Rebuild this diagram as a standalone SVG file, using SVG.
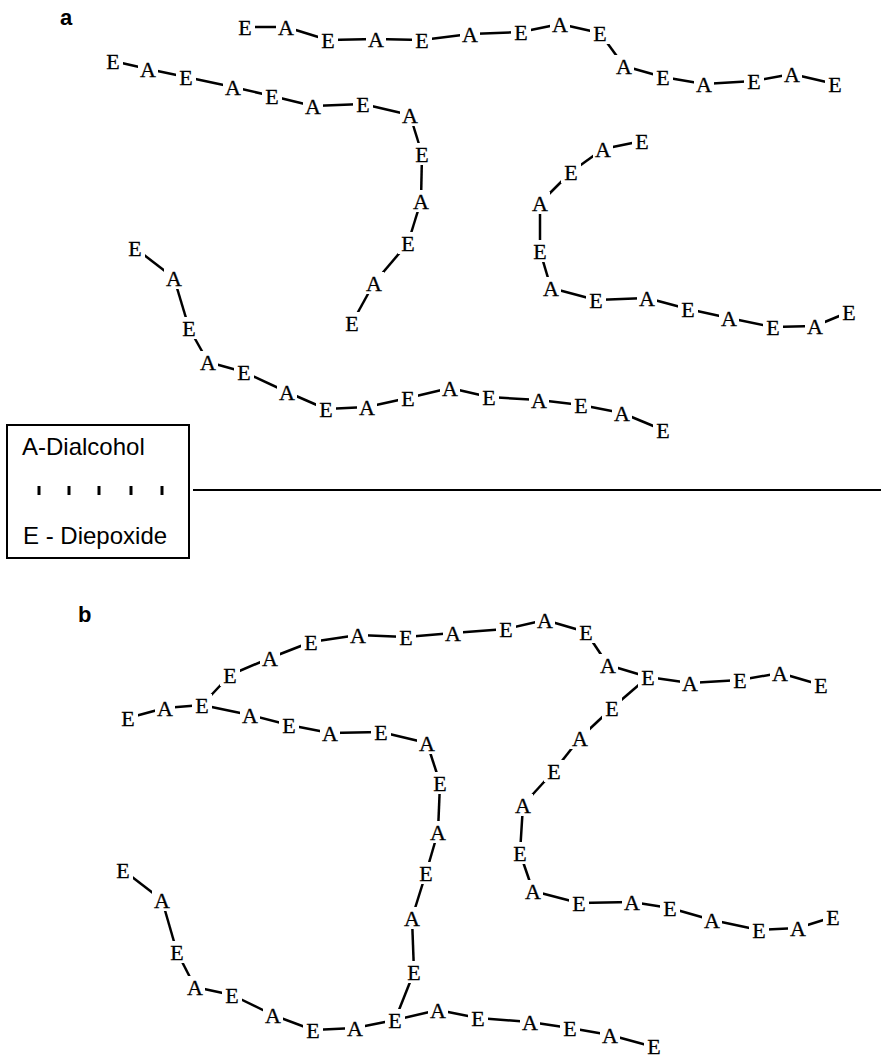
<svg xmlns="http://www.w3.org/2000/svg" width="881" height="1058" viewBox="0 0 881 1058">
<style>
.c line{stroke:#000;stroke-width:2.5;stroke-linecap:butt}
.n rect{fill:#fff}
.n text{font-family:"Liberation Serif","Times New Roman",serif;font-size:22px;text-anchor:middle;fill:#000;stroke:#000;stroke-width:0.3}
.lbl{font-family:"Liberation Sans",Arial,sans-serif;font-weight:bold;font-size:22px;fill:#000}
.leg text{font-family:"Liberation Sans",Arial,sans-serif;font-size:24px;fill:#000}
</style>
<rect width="881" height="1058" fill="#fff"/>
<text class="lbl" x="60" y="25">a</text>
<text class="lbl" x="78" y="622">b</text>
<g id="legend" class="leg">
<rect x="7" y="425" width="182" height="133" fill="none" stroke="#000" stroke-width="2"/>
<text x="22" y="455">A-Dialcohol</text>
<text x="23" y="544">E - Diepoxide</text>
<g stroke="#000" stroke-width="3">
<line x1="39" y1="486" x2="39" y2="495"/><line x1="69" y1="486" x2="69" y2="495"/><line x1="99" y1="486" x2="99" y2="495"/><line x1="131" y1="486" x2="131" y2="495"/><line x1="162" y1="486" x2="162" y2="495"/>
</g>
</g>
<line id="divider" x1="193" y1="490" x2="881" y2="490" stroke="#000" stroke-width="2"/>
<g id="connectors" class="c">
<line x1="245" y1="27" x2="286" y2="27"/><line x1="286" y1="27" x2="328" y2="40"/><line x1="328" y1="40" x2="376" y2="39"/><line x1="376" y1="39" x2="422" y2="40"/><line x1="422" y1="40" x2="470" y2="34"/><line x1="470" y1="34" x2="521" y2="32"/><line x1="521" y1="32" x2="560" y2="24"/><line x1="560" y1="24" x2="600" y2="33"/><line x1="600" y1="33" x2="624" y2="66"/><line x1="624" y1="66" x2="663" y2="77"/><line x1="663" y1="77" x2="704" y2="84"/><line x1="704" y1="84" x2="754" y2="81"/><line x1="754" y1="81" x2="792" y2="74"/><line x1="792" y1="74" x2="835" y2="84"/>
<line x1="113" y1="61" x2="148" y2="69"/><line x1="148" y1="69" x2="186" y2="77"/><line x1="186" y1="77" x2="233" y2="87"/><line x1="233" y1="87" x2="272" y2="96"/><line x1="272" y1="96" x2="313" y2="106"/><line x1="313" y1="106" x2="363" y2="104"/><line x1="363" y1="104" x2="410" y2="115"/><line x1="410" y1="115" x2="422" y2="154"/><line x1="422" y1="154" x2="421" y2="201"/><line x1="421" y1="201" x2="408" y2="243"/><line x1="408" y1="243" x2="374" y2="283"/><line x1="374" y1="283" x2="352" y2="323"/>
<line x1="135" y1="248" x2="174" y2="278"/><line x1="174" y1="278" x2="189" y2="328"/><line x1="189" y1="328" x2="208" y2="362"/><line x1="208" y1="362" x2="244" y2="372"/><line x1="244" y1="372" x2="287" y2="392"/><line x1="287" y1="392" x2="326" y2="409"/><line x1="326" y1="409" x2="367" y2="407"/><line x1="367" y1="407" x2="408" y2="398"/><line x1="408" y1="398" x2="450" y2="388"/><line x1="450" y1="388" x2="489" y2="397"/><line x1="489" y1="397" x2="539" y2="400"/><line x1="539" y1="400" x2="581" y2="405"/><line x1="581" y1="405" x2="622" y2="413"/><line x1="622" y1="413" x2="663" y2="430"/>
<line x1="642" y1="141" x2="603" y2="149"/><line x1="603" y1="149" x2="571" y2="172"/><line x1="571" y1="172" x2="540" y2="203"/><line x1="540" y1="203" x2="540" y2="251"/><line x1="540" y1="251" x2="551" y2="288"/><line x1="551" y1="288" x2="596" y2="300"/><line x1="596" y1="300" x2="647" y2="298"/><line x1="647" y1="298" x2="688" y2="309"/><line x1="688" y1="309" x2="729" y2="318"/><line x1="729" y1="318" x2="773" y2="327"/><line x1="773" y1="327" x2="815" y2="326"/><line x1="815" y1="326" x2="849" y2="312"/>
<line x1="128" y1="718" x2="165" y2="708"/><line x1="165" y1="708" x2="202" y2="705"/><line x1="202" y1="705" x2="230" y2="675"/><line x1="230" y1="675" x2="270" y2="658"/><line x1="270" y1="658" x2="311" y2="642"/><line x1="311" y1="642" x2="358" y2="635"/><line x1="358" y1="635" x2="406" y2="637"/><line x1="406" y1="637" x2="453" y2="633"/><line x1="453" y1="633" x2="506" y2="629"/><line x1="506" y1="629" x2="545" y2="620"/><line x1="545" y1="620" x2="586" y2="632"/><line x1="586" y1="632" x2="608" y2="665"/><line x1="608" y1="665" x2="648" y2="677"/><line x1="648" y1="677" x2="690" y2="683"/><line x1="690" y1="683" x2="740" y2="680"/><line x1="740" y1="680" x2="780" y2="673"/><line x1="780" y1="673" x2="821" y2="685"/>
<line x1="648" y1="677" x2="612" y2="708"/><line x1="612" y1="708" x2="580" y2="738"/><line x1="580" y1="738" x2="554" y2="771"/><line x1="554" y1="771" x2="523" y2="805"/><line x1="523" y1="805" x2="520" y2="853"/><line x1="520" y1="853" x2="533" y2="891"/><line x1="533" y1="891" x2="579" y2="903"/><line x1="579" y1="903" x2="632" y2="902"/><line x1="632" y1="902" x2="670" y2="908"/><line x1="670" y1="908" x2="712" y2="920"/><line x1="712" y1="920" x2="759" y2="930"/><line x1="759" y1="930" x2="798" y2="928"/><line x1="798" y1="928" x2="833" y2="917"/>
<line x1="202" y1="705" x2="250" y2="715"/><line x1="250" y1="715" x2="289" y2="725"/><line x1="289" y1="725" x2="330" y2="733"/><line x1="330" y1="733" x2="381" y2="732"/><line x1="381" y1="732" x2="427" y2="743"/><line x1="427" y1="743" x2="440" y2="783"/><line x1="440" y1="783" x2="438" y2="832"/><line x1="438" y1="832" x2="426" y2="873"/><line x1="426" y1="873" x2="412" y2="918"/><line x1="412" y1="918" x2="414" y2="972"/><line x1="414" y1="972" x2="395" y2="1020"/>
<line x1="395" y1="1020" x2="355" y2="1028"/><line x1="355" y1="1028" x2="313" y2="1030"/><line x1="313" y1="1030" x2="273" y2="1015"/><line x1="273" y1="1015" x2="232" y2="995"/><line x1="232" y1="995" x2="195" y2="987"/><line x1="195" y1="987" x2="177" y2="952"/><line x1="177" y1="952" x2="162" y2="900"/><line x1="162" y1="900" x2="123" y2="870"/>
<line x1="395" y1="1020" x2="438" y2="1010"/><line x1="438" y1="1010" x2="478" y2="1018"/><line x1="478" y1="1018" x2="530" y2="1022"/><line x1="530" y1="1022" x2="570" y2="1028"/><line x1="570" y1="1028" x2="610" y2="1035"/><line x1="610" y1="1035" x2="654" y2="1047"/>
</g>
<g id="nodes-a">
<g id="a1-1" class="n" transform="translate(245,27)"><rect x="-10" y="-11" width="20" height="22"/><text y="7.5">E</text></g>
<g id="a1-2" class="n" transform="translate(286,27)"><rect x="-10" y="-11" width="20" height="22"/><text y="7.5">A</text></g>
<g id="a1-3" class="n" transform="translate(328,40)"><rect x="-10" y="-11" width="20" height="22"/><text y="7.5">E</text></g>
<g id="a1-4" class="n" transform="translate(376,39)"><rect x="-10" y="-11" width="20" height="22"/><text y="7.5">A</text></g>
<g id="a1-5" class="n" transform="translate(422,40)"><rect x="-10" y="-11" width="20" height="22"/><text y="7.5">E</text></g>
<g id="a1-6" class="n" transform="translate(470,34)"><rect x="-10" y="-11" width="20" height="22"/><text y="7.5">A</text></g>
<g id="a1-7" class="n" transform="translate(521,32)"><rect x="-10" y="-11" width="20" height="22"/><text y="7.5">E</text></g>
<g id="a1-8" class="n" transform="translate(560,24)"><rect x="-10" y="-11" width="20" height="22"/><text y="7.5">A</text></g>
<g id="a1-9" class="n" transform="translate(600,33)"><rect x="-10" y="-11" width="20" height="22"/><text y="7.5">E</text></g>
<g id="a1-10" class="n" transform="translate(624,66)"><rect x="-10" y="-11" width="20" height="22"/><text y="7.5">A</text></g>
<g id="a1-11" class="n" transform="translate(663,77)"><rect x="-10" y="-11" width="20" height="22"/><text y="7.5">E</text></g>
<g id="a1-12" class="n" transform="translate(704,84)"><rect x="-10" y="-11" width="20" height="22"/><text y="7.5">A</text></g>
<g id="a1-13" class="n" transform="translate(754,81)"><rect x="-10" y="-11" width="20" height="22"/><text y="7.5">E</text></g>
<g id="a1-14" class="n" transform="translate(792,74)"><rect x="-10" y="-11" width="20" height="22"/><text y="7.5">A</text></g>
<g id="a1-15" class="n" transform="translate(835,84)"><rect x="-10" y="-11" width="20" height="22"/><text y="7.5">E</text></g>
<g id="a2-1" class="n" transform="translate(113,61)"><rect x="-10" y="-11" width="20" height="22"/><text y="7.5">E</text></g>
<g id="a2-2" class="n" transform="translate(148,69)"><rect x="-10" y="-11" width="20" height="22"/><text y="7.5">A</text></g>
<g id="a2-3" class="n" transform="translate(186,77)"><rect x="-10" y="-11" width="20" height="22"/><text y="7.5">E</text></g>
<g id="a2-4" class="n" transform="translate(233,87)"><rect x="-10" y="-11" width="20" height="22"/><text y="7.5">A</text></g>
<g id="a2-5" class="n" transform="translate(272,96)"><rect x="-10" y="-11" width="20" height="22"/><text y="7.5">E</text></g>
<g id="a2-6" class="n" transform="translate(313,106)"><rect x="-10" y="-11" width="20" height="22"/><text y="7.5">A</text></g>
<g id="a2-7" class="n" transform="translate(363,104)"><rect x="-10" y="-11" width="20" height="22"/><text y="7.5">E</text></g>
<g id="a2-8" class="n" transform="translate(410,115)"><rect x="-10" y="-11" width="20" height="22"/><text y="7.5">A</text></g>
<g id="a2-9" class="n" transform="translate(422,154)"><rect x="-10" y="-11" width="20" height="22"/><text y="7.5">E</text></g>
<g id="a2-10" class="n" transform="translate(421,201)"><rect x="-10" y="-11" width="20" height="22"/><text y="7.5">A</text></g>
<g id="a2-11" class="n" transform="translate(408,243)"><rect x="-10" y="-11" width="20" height="22"/><text y="7.5">E</text></g>
<g id="a2-12" class="n" transform="translate(374,283)"><rect x="-10" y="-11" width="20" height="22"/><text y="7.5">A</text></g>
<g id="a2-13" class="n" transform="translate(352,323)"><rect x="-10" y="-11" width="20" height="22"/><text y="7.5">E</text></g>
<g id="a3-1" class="n" transform="translate(135,248)"><rect x="-10" y="-11" width="20" height="22"/><text y="7.5">E</text></g>
<g id="a3-2" class="n" transform="translate(174,278)"><rect x="-10" y="-11" width="20" height="22"/><text y="7.5">A</text></g>
<g id="a3-3" class="n" transform="translate(189,328)"><rect x="-10" y="-11" width="20" height="22"/><text y="7.5">E</text></g>
<g id="a3-4" class="n" transform="translate(208,362)"><rect x="-10" y="-11" width="20" height="22"/><text y="7.5">A</text></g>
<g id="a3-5" class="n" transform="translate(244,372)"><rect x="-10" y="-11" width="20" height="22"/><text y="7.5">E</text></g>
<g id="a3-6" class="n" transform="translate(287,392)"><rect x="-10" y="-11" width="20" height="22"/><text y="7.5">A</text></g>
<g id="a3-7" class="n" transform="translate(326,409)"><rect x="-10" y="-11" width="20" height="22"/><text y="7.5">E</text></g>
<g id="a3-8" class="n" transform="translate(367,407)"><rect x="-10" y="-11" width="20" height="22"/><text y="7.5">A</text></g>
<g id="a3-9" class="n" transform="translate(408,398)"><rect x="-10" y="-11" width="20" height="22"/><text y="7.5">E</text></g>
<g id="a3-10" class="n" transform="translate(450,388)"><rect x="-10" y="-11" width="20" height="22"/><text y="7.5">A</text></g>
<g id="a3-11" class="n" transform="translate(489,397)"><rect x="-10" y="-11" width="20" height="22"/><text y="7.5">E</text></g>
<g id="a3-12" class="n" transform="translate(539,400)"><rect x="-10" y="-11" width="20" height="22"/><text y="7.5">A</text></g>
<g id="a3-13" class="n" transform="translate(581,405)"><rect x="-10" y="-11" width="20" height="22"/><text y="7.5">E</text></g>
<g id="a3-14" class="n" transform="translate(622,413)"><rect x="-10" y="-11" width="20" height="22"/><text y="7.5">A</text></g>
<g id="a3-15" class="n" transform="translate(663,430)"><rect x="-10" y="-11" width="20" height="22"/><text y="7.5">E</text></g>
<g id="a4-1" class="n" transform="translate(642,141)"><rect x="-10" y="-11" width="20" height="22"/><text y="7.5">E</text></g>
<g id="a4-2" class="n" transform="translate(603,149)"><rect x="-10" y="-11" width="20" height="22"/><text y="7.5">A</text></g>
<g id="a4-3" class="n" transform="translate(571,172)"><rect x="-10" y="-11" width="20" height="22"/><text y="7.5">E</text></g>
<g id="a4-4" class="n" transform="translate(540,203)"><rect x="-10" y="-11" width="20" height="22"/><text y="7.5">A</text></g>
<g id="a4-5" class="n" transform="translate(540,251)"><rect x="-10" y="-11" width="20" height="22"/><text y="7.5">E</text></g>
<g id="a4-6" class="n" transform="translate(551,288)"><rect x="-10" y="-11" width="20" height="22"/><text y="7.5">A</text></g>
<g id="a4-7" class="n" transform="translate(596,300)"><rect x="-10" y="-11" width="20" height="22"/><text y="7.5">E</text></g>
<g id="a4-8" class="n" transform="translate(647,298)"><rect x="-10" y="-11" width="20" height="22"/><text y="7.5">A</text></g>
<g id="a4-9" class="n" transform="translate(688,309)"><rect x="-10" y="-11" width="20" height="22"/><text y="7.5">E</text></g>
<g id="a4-10" class="n" transform="translate(729,318)"><rect x="-10" y="-11" width="20" height="22"/><text y="7.5">A</text></g>
<g id="a4-11" class="n" transform="translate(773,327)"><rect x="-10" y="-11" width="20" height="22"/><text y="7.5">E</text></g>
<g id="a4-12" class="n" transform="translate(815,326)"><rect x="-10" y="-11" width="20" height="22"/><text y="7.5">A</text></g>
<g id="a4-13" class="n" transform="translate(849,312)"><rect x="-10" y="-11" width="20" height="22"/><text y="7.5">E</text></g>
</g>
<g id="nodes-b">
<g id="b-1" class="n" transform="translate(128,718)"><rect x="-10" y="-11" width="20" height="22"/><text y="7.5">E</text></g>
<g id="b-2" class="n" transform="translate(165,708)"><rect x="-10" y="-11" width="20" height="22"/><text y="7.5">A</text></g>
<g id="b-3" class="n" transform="translate(202,705)"><rect x="-10" y="-11" width="20" height="22"/><text y="7.5">E</text></g>
<g id="b-4" class="n" transform="translate(230,675)"><rect x="-10" y="-11" width="20" height="22"/><text y="7.5">E</text></g>
<g id="b-5" class="n" transform="translate(270,658)"><rect x="-10" y="-11" width="20" height="22"/><text y="7.5">A</text></g>
<g id="b-6" class="n" transform="translate(311,642)"><rect x="-10" y="-11" width="20" height="22"/><text y="7.5">E</text></g>
<g id="b-7" class="n" transform="translate(358,635)"><rect x="-10" y="-11" width="20" height="22"/><text y="7.5">A</text></g>
<g id="b-8" class="n" transform="translate(406,637)"><rect x="-10" y="-11" width="20" height="22"/><text y="7.5">E</text></g>
<g id="b-9" class="n" transform="translate(453,633)"><rect x="-10" y="-11" width="20" height="22"/><text y="7.5">A</text></g>
<g id="b-10" class="n" transform="translate(506,629)"><rect x="-10" y="-11" width="20" height="22"/><text y="7.5">E</text></g>
<g id="b-11" class="n" transform="translate(545,620)"><rect x="-10" y="-11" width="20" height="22"/><text y="7.5">A</text></g>
<g id="b-12" class="n" transform="translate(586,632)"><rect x="-10" y="-11" width="20" height="22"/><text y="7.5">E</text></g>
<g id="b-13" class="n" transform="translate(608,665)"><rect x="-10" y="-11" width="20" height="22"/><text y="7.5">A</text></g>
<g id="b-14" class="n" transform="translate(648,677)"><rect x="-10" y="-11" width="20" height="22"/><text y="7.5">E</text></g>
<g id="b-15" class="n" transform="translate(690,683)"><rect x="-10" y="-11" width="20" height="22"/><text y="7.5">A</text></g>
<g id="b-16" class="n" transform="translate(740,680)"><rect x="-10" y="-11" width="20" height="22"/><text y="7.5">E</text></g>
<g id="b-17" class="n" transform="translate(780,673)"><rect x="-10" y="-11" width="20" height="22"/><text y="7.5">A</text></g>
<g id="b-18" class="n" transform="translate(821,685)"><rect x="-10" y="-11" width="20" height="22"/><text y="7.5">E</text></g>
<g id="b-19" class="n" transform="translate(612,708)"><rect x="-10" y="-11" width="20" height="22"/><text y="7.5">E</text></g>
<g id="b-20" class="n" transform="translate(580,738)"><rect x="-10" y="-11" width="20" height="22"/><text y="7.5">A</text></g>
<g id="b-21" class="n" transform="translate(554,771)"><rect x="-10" y="-11" width="20" height="22"/><text y="7.5">E</text></g>
<g id="b-22" class="n" transform="translate(523,805)"><rect x="-10" y="-11" width="20" height="22"/><text y="7.5">A</text></g>
<g id="b-23" class="n" transform="translate(520,853)"><rect x="-10" y="-11" width="20" height="22"/><text y="7.5">E</text></g>
<g id="b-24" class="n" transform="translate(533,891)"><rect x="-10" y="-11" width="20" height="22"/><text y="7.5">A</text></g>
<g id="b-25" class="n" transform="translate(579,903)"><rect x="-10" y="-11" width="20" height="22"/><text y="7.5">E</text></g>
<g id="b-26" class="n" transform="translate(632,902)"><rect x="-10" y="-11" width="20" height="22"/><text y="7.5">A</text></g>
<g id="b-27" class="n" transform="translate(670,908)"><rect x="-10" y="-11" width="20" height="22"/><text y="7.5">E</text></g>
<g id="b-28" class="n" transform="translate(712,920)"><rect x="-10" y="-11" width="20" height="22"/><text y="7.5">A</text></g>
<g id="b-29" class="n" transform="translate(759,930)"><rect x="-10" y="-11" width="20" height="22"/><text y="7.5">E</text></g>
<g id="b-30" class="n" transform="translate(798,928)"><rect x="-10" y="-11" width="20" height="22"/><text y="7.5">A</text></g>
<g id="b-31" class="n" transform="translate(833,917)"><rect x="-10" y="-11" width="20" height="22"/><text y="7.5">E</text></g>
<g id="b-32" class="n" transform="translate(250,715)"><rect x="-10" y="-11" width="20" height="22"/><text y="7.5">A</text></g>
<g id="b-33" class="n" transform="translate(289,725)"><rect x="-10" y="-11" width="20" height="22"/><text y="7.5">E</text></g>
<g id="b-34" class="n" transform="translate(330,733)"><rect x="-10" y="-11" width="20" height="22"/><text y="7.5">A</text></g>
<g id="b-35" class="n" transform="translate(381,732)"><rect x="-10" y="-11" width="20" height="22"/><text y="7.5">E</text></g>
<g id="b-36" class="n" transform="translate(427,743)"><rect x="-10" y="-11" width="20" height="22"/><text y="7.5">A</text></g>
<g id="b-37" class="n" transform="translate(440,783)"><rect x="-10" y="-11" width="20" height="22"/><text y="7.5">E</text></g>
<g id="b-38" class="n" transform="translate(438,832)"><rect x="-10" y="-11" width="20" height="22"/><text y="7.5">A</text></g>
<g id="b-39" class="n" transform="translate(426,873)"><rect x="-10" y="-11" width="20" height="22"/><text y="7.5">E</text></g>
<g id="b-40" class="n" transform="translate(412,918)"><rect x="-10" y="-11" width="20" height="22"/><text y="7.5">A</text></g>
<g id="b-41" class="n" transform="translate(414,972)"><rect x="-10" y="-11" width="20" height="22"/><text y="7.5">E</text></g>
<g id="b-42" class="n" transform="translate(395,1020)"><rect x="-10" y="-11" width="20" height="22"/><text y="7.5">E</text></g>
<g id="b-43" class="n" transform="translate(355,1028)"><rect x="-10" y="-11" width="20" height="22"/><text y="7.5">A</text></g>
<g id="b-44" class="n" transform="translate(313,1030)"><rect x="-10" y="-11" width="20" height="22"/><text y="7.5">E</text></g>
<g id="b-45" class="n" transform="translate(273,1015)"><rect x="-10" y="-11" width="20" height="22"/><text y="7.5">A</text></g>
<g id="b-46" class="n" transform="translate(232,995)"><rect x="-10" y="-11" width="20" height="22"/><text y="7.5">E</text></g>
<g id="b-47" class="n" transform="translate(195,987)"><rect x="-10" y="-11" width="20" height="22"/><text y="7.5">A</text></g>
<g id="b-48" class="n" transform="translate(177,952)"><rect x="-10" y="-11" width="20" height="22"/><text y="7.5">E</text></g>
<g id="b-49" class="n" transform="translate(162,900)"><rect x="-10" y="-11" width="20" height="22"/><text y="7.5">A</text></g>
<g id="b-50" class="n" transform="translate(123,870)"><rect x="-10" y="-11" width="20" height="22"/><text y="7.5">E</text></g>
<g id="b-51" class="n" transform="translate(438,1010)"><rect x="-10" y="-11" width="20" height="22"/><text y="7.5">A</text></g>
<g id="b-52" class="n" transform="translate(478,1018)"><rect x="-10" y="-11" width="20" height="22"/><text y="7.5">E</text></g>
<g id="b-53" class="n" transform="translate(530,1022)"><rect x="-10" y="-11" width="20" height="22"/><text y="7.5">A</text></g>
<g id="b-54" class="n" transform="translate(570,1028)"><rect x="-10" y="-11" width="20" height="22"/><text y="7.5">E</text></g>
<g id="b-55" class="n" transform="translate(610,1035)"><rect x="-10" y="-11" width="20" height="22"/><text y="7.5">A</text></g>
<g id="b-56" class="n" transform="translate(654,1047)"><rect x="-10" y="-11" width="20" height="22"/><text y="7">E</text></g>
</g>
</svg>
